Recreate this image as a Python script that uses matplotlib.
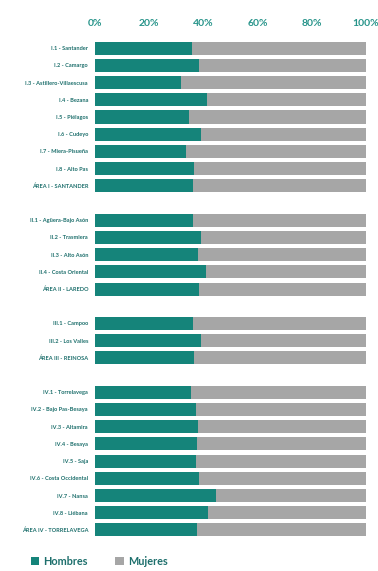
import matplotlib.pyplot as plt

# Datos: porcentaje de hombres por zona (mujeres = 100 - hombres)
area1_labels = ["I.1 - Santander", "I.2 - Camargo", "I.3 - Astillero-Villaescusa", "I.4 - Bezana",
                "I.5 - Piélagos", "I.6 - Cudeyo", "I.7 - Miera-Pisueña", "I.8 - Alto Pas",
                "ÁREA I - SANTANDER"]
area1_hombres = [35.8, 38.5, 31.7, 41.2, 34.7, 39.0, 33.6, 36.5, 36.0]

area2_labels = ["II.1 - Agüera-Bajo Asón", "II.2 - Trasmiera", "II.3 - Alto Asón",
                "II.4 - Costa Oriental", "ÁREA II - LAREDO"]
area2_hombres = [36.3, 39.0, 37.9, 41.0, 38.4]

area3_labels = ["III.1 - Campoo", "III.2 - Los Valles", "ÁREA III - REINOSA"]
area3_hombres = [36.3, 39.1, 36.7]

area4_labels = ["IV.1 - Torrelavega", "IV.2 - Bajo Pas-Besaya", "IV.3 - Altamira", "IV.4 - Besaya",
                "IV.5 - Saja", "IV.6 - Costa Occidental", "IV.7 - Nansa", "IV.8 - Liébana",
                "ÁREA IV - TORRELAVEGA"]
area4_hombres = [35.4, 37.3, 38.1, 37.8, 37.3, 38.2, 44.6, 41.8, 37.5]

TEAL = "#15847a"
GRIS = "#a6a6a6"
TEXTO = "#1d6f6c"

plt.rcParams['font.family'] = ['Lato', 'DejaVu Sans']

fig = plt.figure(figsize=(3.78, 5.71), dpi=100)
ax = fig.add_axes([0.2513, 0.0508, 0.717, 0.886])

# Posiciones con un hueco entre areas
labels, hombres, pos = [], [], []
slot = 0
for lab, val in [(area1_labels, area1_hombres), (area2_labels, area2_hombres),
                 (area3_labels, area3_hombres), (area4_labels, area4_hombres)]:
    for l, v in zip(lab, val):
        labels.append(l)
        hombres.append(v)
        pos.append(slot)
        slot += 1
    slot += 1

mujeres = [100 - h for h in hombres]
ax.barh(pos, hombres, height=0.76, color=TEAL, label="Hombres")
ax.barh(pos, mujeres, left=hombres, height=0.76, color=GRIS, label="Mujeres")

ax.set_ylim(pos[-1] + 0.7, -0.7)
ax.set_xlim(0, 100)
ax.set_yticks(pos)
ax.set_yticklabels(labels, fontsize=4.1, fontweight='bold', color=TEXTO)
ax.set_xticks([0, 20, 40, 60, 80, 100])
ax.set_xticklabels(["0%", "20%", "40%", "60%", "80%", "100%"], fontsize=7.5,
                   fontweight='bold', color="#27948a")
ax.xaxis.tick_top()
ax.tick_params(axis='both', length=0)
ax.tick_params(axis='x', pad=5.5)
ax.tick_params(axis='y', pad=5)
for s in ax.spines.values():
    s.set_visible(False)

fig.legend(loc='lower left', bbox_to_anchor=(0.055, -0.01), ncol=2, frameon=False,
           handlelength=0.8, handleheight=0.8, columnspacing=2.5,
           handletextpad=0.4, labelcolor=TEXTO, prop={'weight': 'bold', 'size': 7.8})

fig.savefig("out.png", dpi=100)
